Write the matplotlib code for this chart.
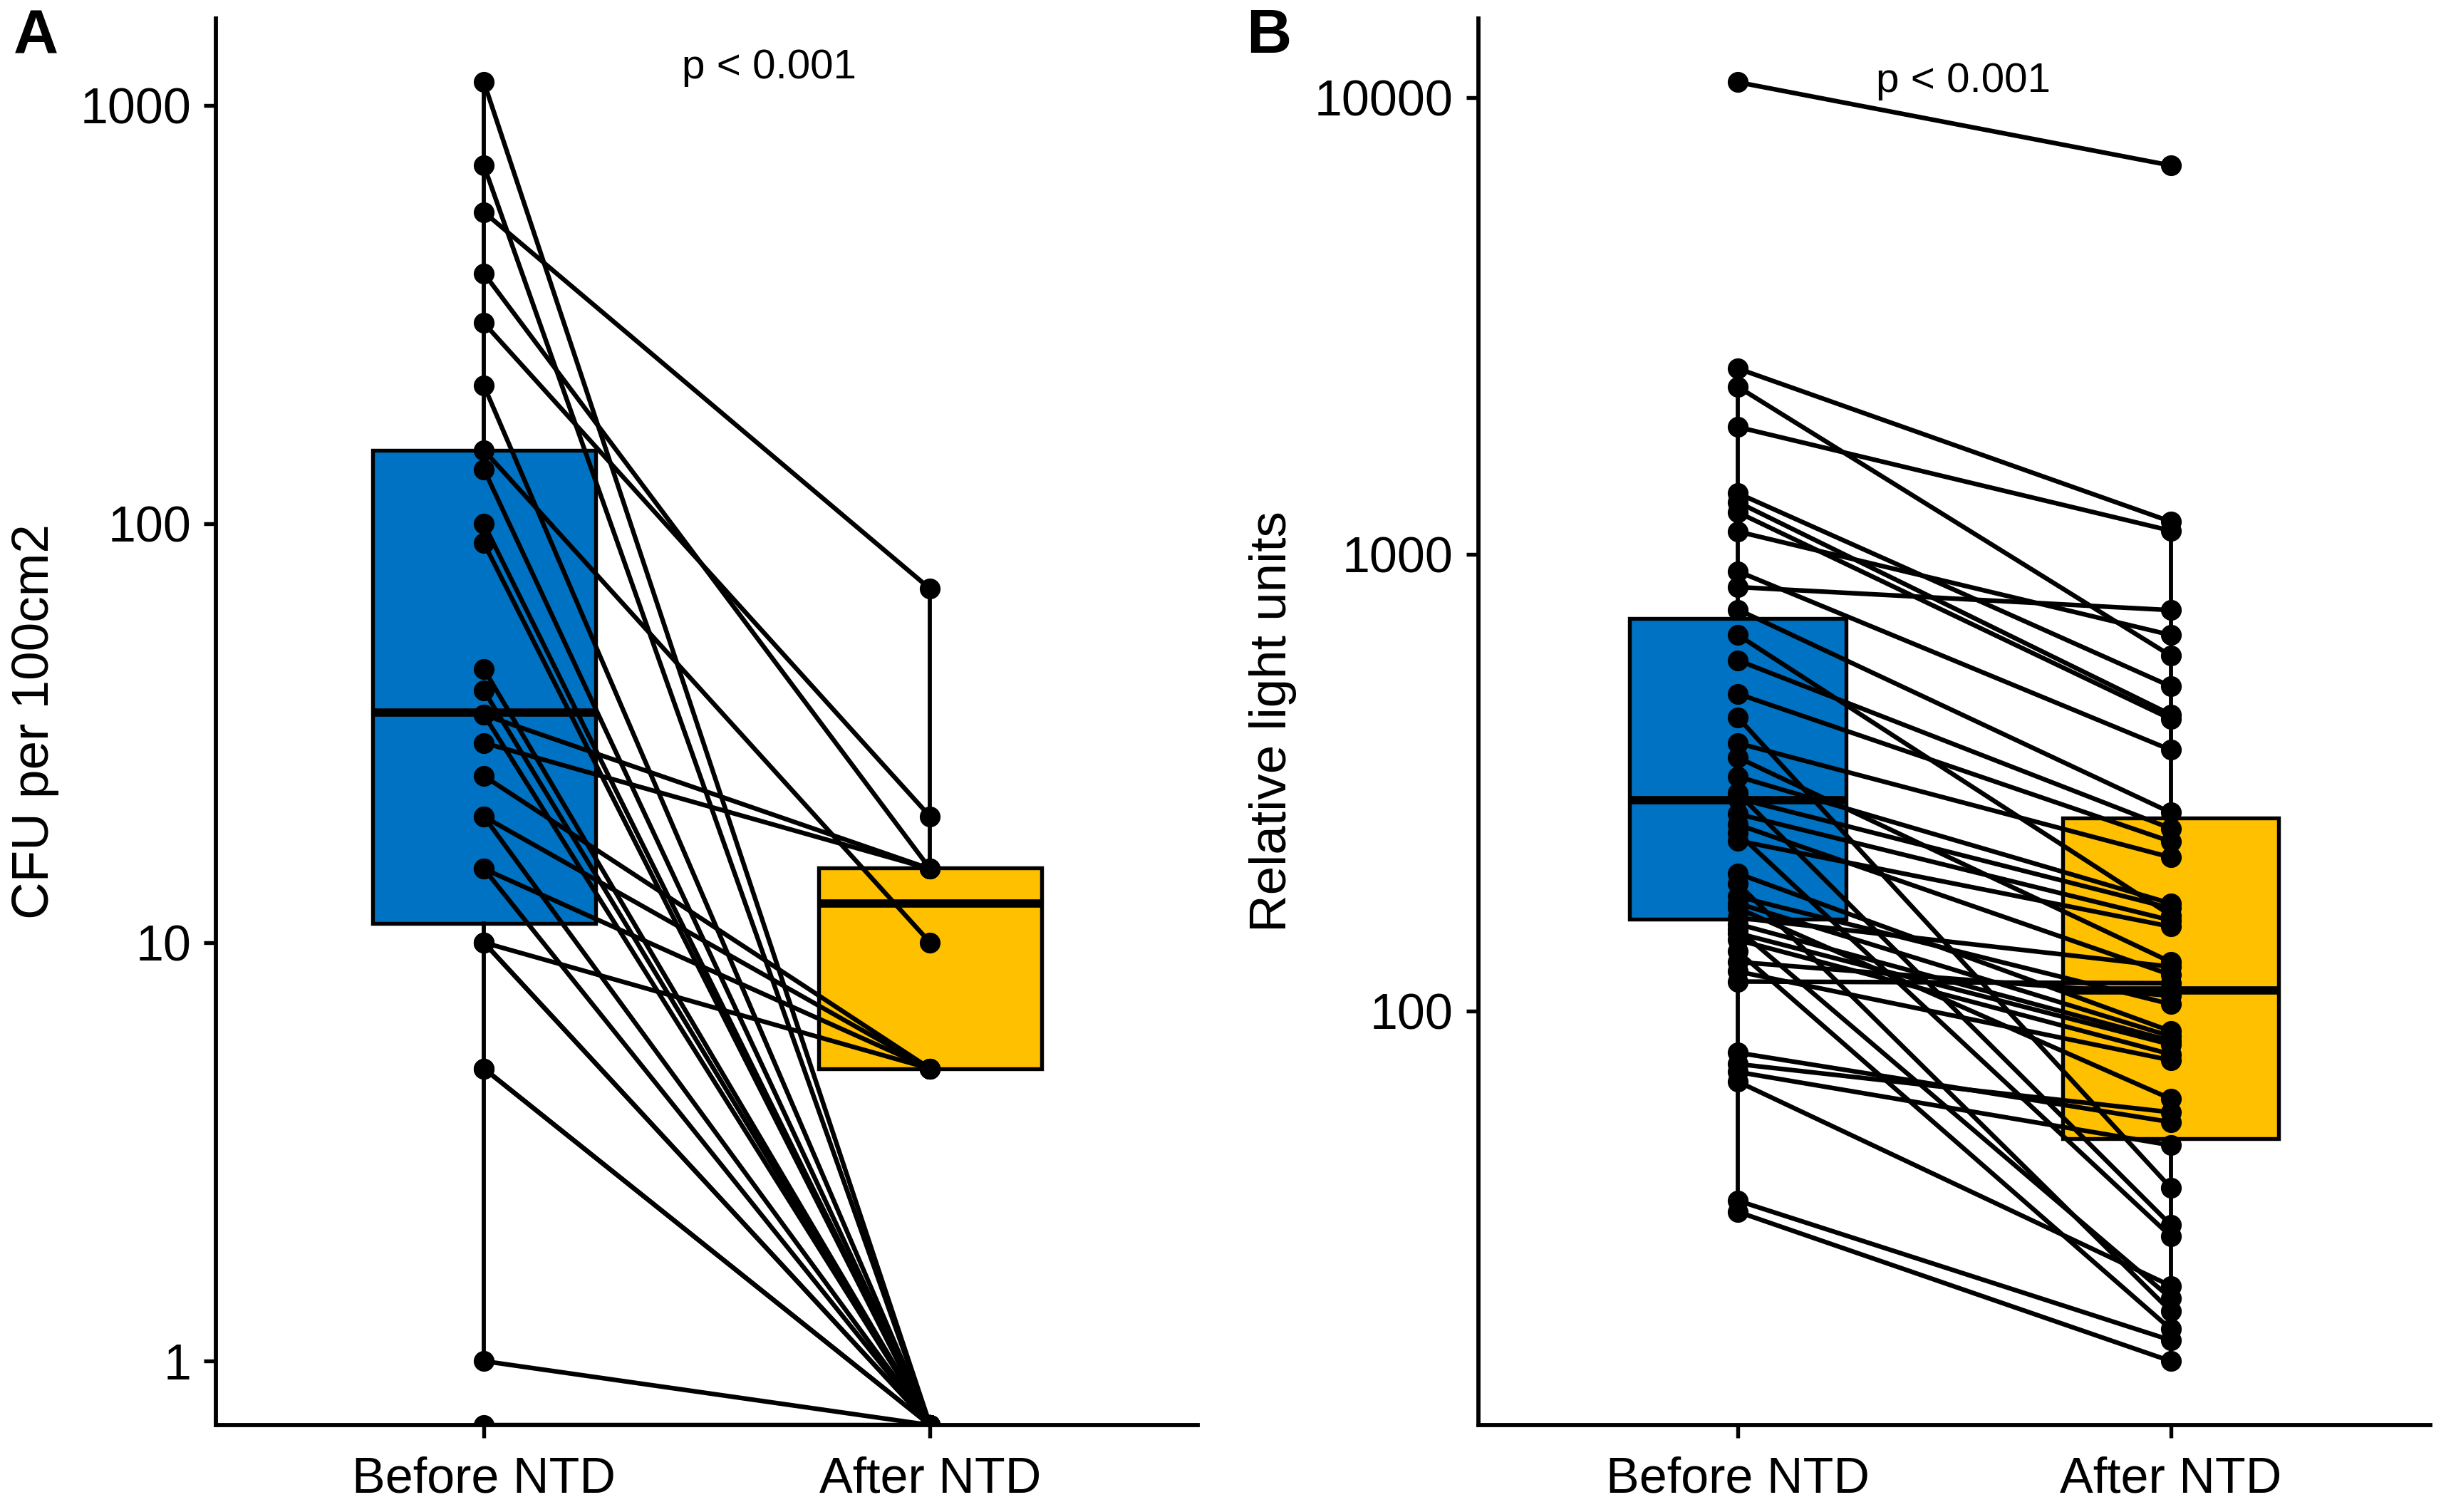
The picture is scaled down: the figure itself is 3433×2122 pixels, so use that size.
import numpy as np
import matplotlib
matplotlib.use("Agg")
from matplotlib import pyplot as plt

# Panel A: CFU per 100cm2, paired before/after (0 = below detection)
cfu_before = [1136, 718, 556, 397, 302, 214, 150, 135, 100, 90, 45, 40, 35, 35,
              30, 25, 20, 20, 15, 15, 10, 10, 10, 5, 5, 1, 0]
cfu_after = [0, 0, 70, 15, 20, 0, 10, 0, 0, 0, 0, 0, 15, 0,
             15, 5, 5, 0, 5, 0, 5, 0, 0, 0, 0, 0, 0]
cfu_q1 = [11.1, 5.0]
cfu_median = [35.4, 12.4]
cfu_q3 = [150, 15.1]

# Panel B: relative light units, paired before/after
rlu_before = [10820, 2553, 2328, 1901, 1361, 1301, 1236, 1122, 918, 848, 757, 666,
              586, 495, 439, 386, 359, 326, 300, 292, 270, 256, 245, 236, 200, 190,
              178, 172, 168, 160, 155, 151, 148, 143, 135, 128, 122, 116, 81, 76.5,
              73.5, 70, 38.4, 36.3]
rlu_after = [7113, 1180, 600, 1127, 514, 446, 436, 666, 373, 755, 272, 162,
             251, 235, 41, 217, 128, 172, 34, 168, 158, 120, 32.1, 153, 90.3, 22,
             103.5, 88, 64.2, 125, 86, 23.5, 84.4, 80.4, 20.1, 108, 78, 115, 57.1, 60,
             50.8, 25, 19, 17.1]
rlu_q1 = [159, 52.5]
rlu_median = [290, 111]
rlu_q3 = [724, 265]

groups = ["Before NTD", "After NTD"]
box_colors = ["#0072C3", "#FFC000"]

plt.rcParams["font.family"] = ["Liberation Sans", "DejaVu Sans"]


def whiskers(values, q1, q3):
    # ggplot-style: furthest finite points within 1.5 IQR (on log scale)
    v = np.array([x for x in values if x > 0], dtype=float)
    lv = np.log10(v)
    iqr = np.log10(q3) - np.log10(q1)
    lo = np.log10(q1) - 1.5 * iqr
    hi = np.log10(q3) + 1.5 * iqr
    inside = v[(lv >= lo) & (lv <= hi)]
    return inside.min(), inside.max()


def draw_panel(ax, before, after, q1, med, q3, ticks, ylabel, ptext, px, py, lpad):
    before = np.array(before, dtype=float)
    after = np.array(after, dtype=float)
    allv = np.concatenate([before, after])
    finite = np.log10(allv[allv > 0])
    span = finite.max() - finite.min()
    ylo = 10 ** (finite.min() - 0.05 * span)
    yhi = 10 ** (finite.max() + 0.05 * span)

    stats = []
    for i, vals in enumerate([before, after]):
        wlo, whi = whiskers(vals, q1[i], q3[i])
        stats.append(dict(med=med[i], q1=q1[i], q3=q3[i], whislo=wlo, whishi=whi, fliers=[]))
    bp = ax.bxp(stats, positions=[1, 2], widths=0.5, patch_artist=True, showcaps=False,
                boxprops=dict(linewidth=1.3, edgecolor="black"),
                whiskerprops=dict(linewidth=1.4, color="black"),
                medianprops=dict(linewidth=2.8, color="black", solid_capstyle="butt"),
                zorder=1)
    for patch, c in zip(bp["boxes"], box_colors):
        patch.set_facecolor(c)

    # zeros sit on the panel floor, like -Inf in ggplot
    b_plot = np.where(before > 0, before, ylo)
    a_plot = np.where(after > 0, after, ylo)
    for b, a in zip(b_plot, a_plot):
        ax.plot([1, 2], [b, a], color="black", linewidth=1.55, zorder=3)
    ax.plot(np.ones(len(b_plot)), b_plot, "o", color="black", markersize=6, zorder=4)
    ax.plot(np.full(len(a_plot), 2), a_plot, "o", color="black", markersize=6, zorder=4)

    ax.set_yscale("log")
    ax.set_ylim(ylo, yhi)
    ax.set_xlim(0.4, 2.6)
    ax.set_yticks(ticks)
    ax.set_yticklabels([str(t) for t in ticks], fontsize=16.8)
    ax.minorticks_off()
    ax.set_xticks([1, 2])
    ax.set_xticklabels(groups, fontsize=16.8)
    ax.tick_params(axis="y", length=4, width=1.3, pad=4.5)
    ax.tick_params(axis="x", length=4.4, width=1.3, pad=6)
    ax.set_ylabel(ylabel, fontsize=17.5, labelpad=lpad)
    for s in ["top", "right"]:
        ax.spines[s].set_visible(False)
    for s in ["left", "bottom"]:
        ax.spines[s].set_linewidth(1.4)
    ax.text(px, py, ptext, ha="center", va="center", fontsize=14)


fig = plt.figure(figsize=(3433 / 300, 2122 / 300), dpi=300)
axA = fig.add_axes([0.0884, 0.0575, 0.4013, 0.9304])
axB = fig.add_axes([0.6044, 0.0575, 0.3892, 0.9304])

draw_panel(axA, cfu_before, cfu_after, cfu_q1, cfu_median, cfu_q3,
           [1, 10, 100, 1000], "CFU per 100cm2", "p < 0.001", 1.64, 1230, 7)
draw_panel(axB, rlu_before, rlu_after, rlu_q1, rlu_median, rlu_q3,
           [100, 1000, 10000], "Relative light units", "p < 0.001", 1.52, 10890, 6)

fig.text(0.0147, 0.9755, "A", fontsize=21, fontweight="bold", ha="center", va="center")
fig.text(0.5188, 0.9755, "B", fontsize=21, fontweight="bold", ha="center", va="center")

fig.savefig("out.png", dpi=300)
